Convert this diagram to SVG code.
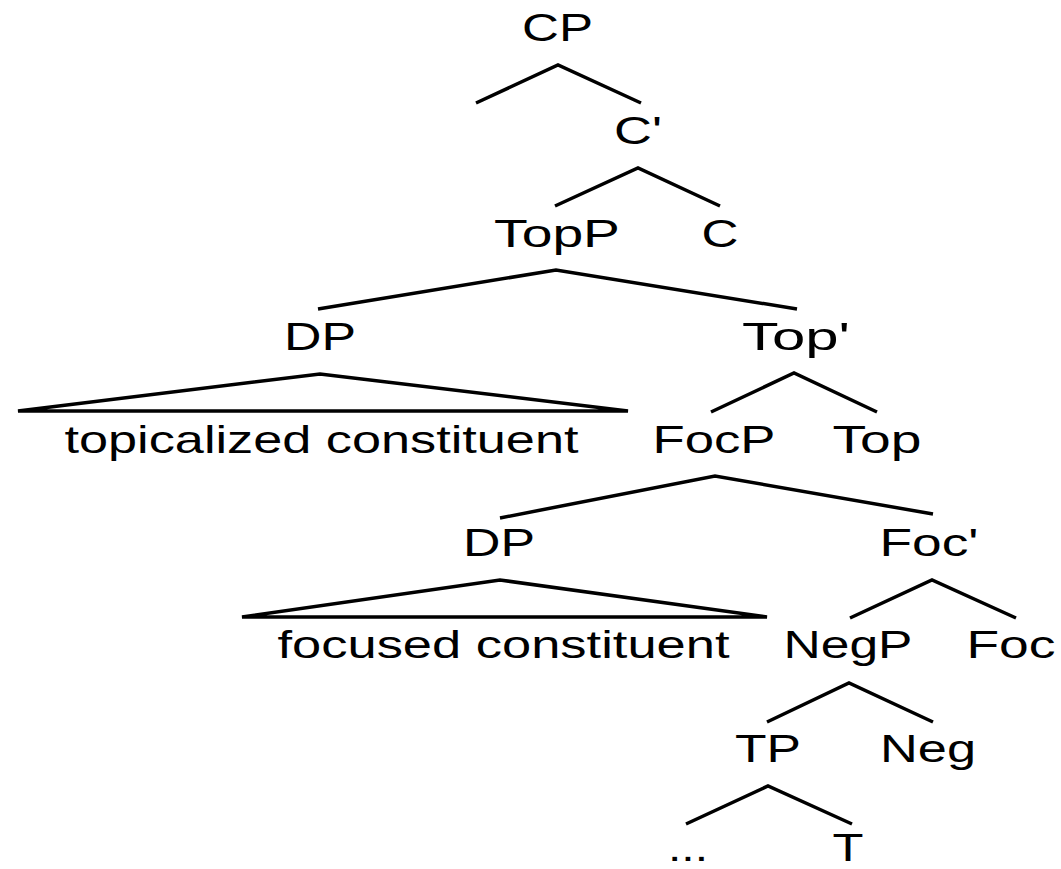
<svg xmlns="http://www.w3.org/2000/svg" width="1061" height="869" viewBox="0 0 1061 869">
<style>
text{font-family:"Liberation Sans",Arial,sans-serif;font-size:39px;fill:#000;text-anchor:middle}
.e{fill:none;stroke:#000;stroke-width:3.5;stroke-linejoin:miter}
</style>
<rect width="1061" height="869" fill="#fff"/>
<g id="connectors">
<polyline class="e" points="476,103 558,65 641,103"/>
<polyline class="e" points="555,206 638,168 720,206"/>
<polyline class="e" points="318,309 556,270 797,309"/>
<polygon class="e" points="18,411 320,374 628,411"/>
<polyline class="e" points="711,412 794,373 877,412"/>
<polyline class="e" points="500,518 715,476 933,514"/>
<polygon class="e" points="242,617 500,580 767,617"/>
<polyline class="e" points="850,618 932,580 1016,618"/>
<polyline class="e" points="767,722 849,683 933,722"/>
<polyline class="e" points="686,824 768,786 852,824"/>
</g>
<g id="n-CP"><text x="557.5" y="41" textLength="71" lengthAdjust="spacingAndGlyphs">CP</text></g>
<g id="n-Cbar"><text x="638" y="144" textLength="48" lengthAdjust="spacingAndGlyphs">C'</text></g>
<g id="n-TopP"><text x="557" y="247" textLength="126" lengthAdjust="spacingAndGlyphs">TopP</text></g>
<g id="n-C"><text x="720" y="247" textLength="37" lengthAdjust="spacingAndGlyphs">C</text></g>
<g id="n-DP1"><text x="320" y="350" textLength="72" lengthAdjust="spacingAndGlyphs">DP</text></g>
<g id="n-Topbar"><text x="796" y="350" textLength="108" lengthAdjust="spacingAndGlyphs">Top'</text></g>
<g id="n-topicalized"><text x="321.5" y="453" textLength="514" lengthAdjust="spacingAndGlyphs">topicalized constituent</text></g>
<g id="n-FocP"><text x="714" y="453" textLength="123" lengthAdjust="spacingAndGlyphs">FocP</text></g>
<g id="n-Top"><text x="877" y="453" textLength="89" lengthAdjust="spacingAndGlyphs">Top</text></g>
<g id="n-DP2"><text x="499" y="556" textLength="72" lengthAdjust="spacingAndGlyphs">DP</text></g>
<g id="n-Focbar"><text x="929" y="556" textLength="99" lengthAdjust="spacingAndGlyphs">Foc'</text></g>
<g id="n-focused"><text x="503.5" y="658" textLength="452" lengthAdjust="spacingAndGlyphs">focused constituent</text></g>
<g id="n-NegP"><text x="848" y="658" textLength="129" lengthAdjust="spacingAndGlyphs">NegP</text></g>
<g id="n-Foc"><text x="1011" y="658" textLength="89" lengthAdjust="spacingAndGlyphs">Foc</text></g>
<g id="n-TP"><text x="768" y="762" textLength="66" lengthAdjust="spacingAndGlyphs">TP</text></g>
<g id="n-Neg"><text x="928" y="762" textLength="96" lengthAdjust="spacingAndGlyphs">Neg</text></g>
<g id="n-dots"><text x="688" y="861" textLength="40" lengthAdjust="spacingAndGlyphs">...</text></g>
<g id="n-T"><text x="848" y="861" textLength="31" lengthAdjust="spacingAndGlyphs">T</text></g>
</svg>
